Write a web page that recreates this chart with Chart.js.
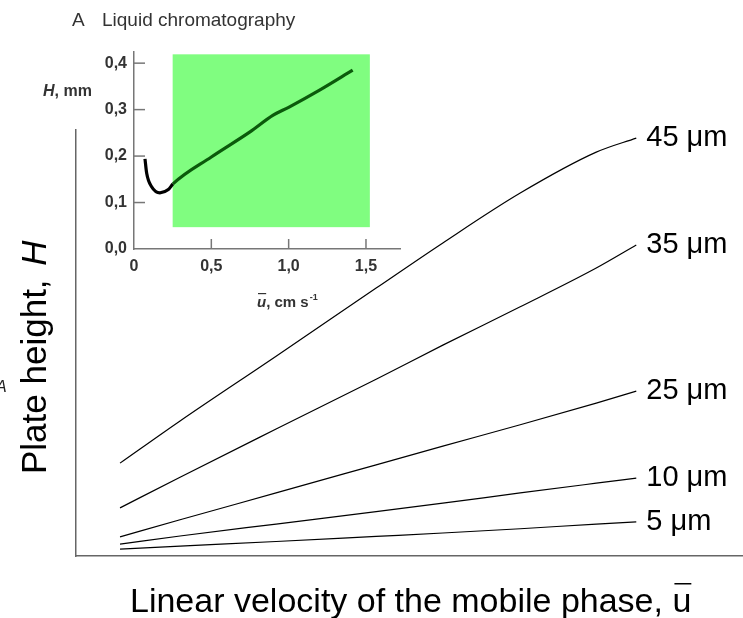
<!DOCTYPE html>
<html>
<head>
<meta charset="utf-8">
<script src="https://cdn.jsdelivr.net/npm/chart.js@4.4.1/dist/chart.umd.min.js"></script>
<style>
  html, body { margin: 0; padding: 0; background: #fff; }
  #wrap { position: relative; width: 743px; height: 618px; overflow: hidden; }
  canvas { position: absolute; left: 0; top: 0; }
</style>
</head>
<body>
<div id="wrap">
  <canvas id="main-chart" width="743" height="618"></canvas>
  <canvas id="inset-chart" width="420" height="320"></canvas>
</div>
<script>
// Main plot: plate height vs mobile phase velocity (arbitrary units, 0-100 on both axes)
const velocity = [6.6, 15.6, 30, 45, 55, 66.6, 78, 84];
const particleSizes = ['45 μm', '35 μm', '25 μm', '10 μm', '5 μm'];
const h45 = [21.8, 31.7, 46.9, 62.9, 73.5, 85.2, 94.8, 98.1];
const h35 = [11.3, 18.5, 29.8, 41.5, 49.5, 58.5, 67.6, 73.0];
const h25 = [4.5, 8.5, 14.8, 21.4, 25.8, 30.8, 35.9, 38.7];
const h10 = [2.8, 4.7, 7.5, 10.4, 12.4, 14.8, 17.1, 18.3];
const h5 = [1.6, 2.3, 3.4, 4.6, 5.4, 6.4, 7.5, 8.0];

// Inset: liquid chromatography curve, H (mm) vs u (cm/s)
const insetU = [0.071, 0.082, 0.114, 0.168, 0.222, 0.252, 0.5, 0.75, 0.9, 1.0, 1.2, 1.414];
const insetH = [0.194, 0.163, 0.134, 0.121, 0.128, 0.140, 0.198, 0.252, 0.288, 0.305, 0.342, 0.385];
const insetXTicks = [0, 0.5, 1.0, 1.5];
const insetXTickLabels = ['0', '0,5', '1,0', '1,5'];
const insetYTicks = [0, 0.1, 0.2, 0.3, 0.4];
const insetYTickLabels = ['0,0', '0,1', '0,2', '0,3', '0,4'];
const highlightU = [0.25, 1.525];
const highlightH = [0.047, 0.419];

const FONT = '"Liberation Sans", Arial, Helvetica, sans-serif';

const toPoints = (xs, ys) => xs.map((x, i) => ({ x: x, y: ys[i] }));

// ---------- main chart ----------
const mainLabels = {
    id: 'mainLabels',
    afterDatasetsDraw(chart) {
        const ctx = chart.ctx;
        ctx.save();
        ctx.fillStyle = '#000';
        ctx.font = '29px ' + FONT;
        ctx.textAlign = 'left';
        ctx.textBaseline = 'middle';
        chart.data.datasets.forEach((ds, i) => {
            const pts = chart.getDatasetMeta(i).data;
            const last = pts[pts.length - 1];
            ctx.fillText(particleSizes[i], last.x + 10, last.y);
        });

        // x axis title with overbar on u
        ctx.font = '34px ' + FONT;
        ctx.textBaseline = 'alphabetic';
        const xt = 'Linear velocity of the mobile phase, ';
        const x0 = 130, base = 612;
        ctx.fillText(xt, x0, base);
        const uX = x0 + ctx.measureText(xt).width;
        ctx.fillText('u', uX, base);
        const uW = ctx.measureText('u').width;
        ctx.fillRect(uX + 2, base - 29, uW - 2, 1.5);

        // y axis title
        ctx.translate(46, 474);
        ctx.rotate(-Math.PI / 2);
        ctx.font = '35px ' + FONT;
        const yt = 'Plate height, ';
        ctx.fillText(yt, 0, 0);
        ctx.font = 'italic 35px ' + FONT;
        ctx.fillText('H', ctx.measureText(yt).width + 4, 0);
        ctx.restore();

        // clipped stray letter at the left edge
        ctx.save();
        ctx.font = 'italic 16px ' + FONT;
        ctx.fillStyle = '#222';
        ctx.fillText('A', -4, 392);
        ctx.restore();
    }
};

const lineStyle = {
    borderColor: '#000',
    borderWidth: 1.2,
    pointRadius: 0,
    fill: false,
    cubicInterpolationMode: 'monotone'
};

new Chart(document.getElementById('main-chart').getContext('2d'), {
    type: 'line',
    data: {
        datasets: [
            { label: particleSizes[0], data: toPoints(velocity, h45), ...lineStyle },
            { label: particleSizes[1], data: toPoints(velocity, h35), ...lineStyle },
            { label: particleSizes[2], data: toPoints(velocity, h25), ...lineStyle },
            { label: particleSizes[3], data: toPoints(velocity, h10), ...lineStyle },
            { label: particleSizes[4], data: toPoints(velocity, h5), ...lineStyle }
        ]
    },
    options: {
        responsive: false,
        animation: false,
        devicePixelRatio: 1,
        layout: { padding: { left: 76, top: 130, right: 0, bottom: 62 } },
        plugins: { legend: { display: false }, tooltip: { enabled: false } },
        scales: {
            x: {
                type: 'linear', min: 0, max: 100,
                ticks: { display: false },
                grid: { display: false, drawTicks: false },
                border: { display: true, color: '#666', width: 1.5 },
                afterFit(s) { s.height = 0; }
            },
            y: {
                type: 'linear', min: 0, max: 100,
                ticks: { display: false },
                grid: { display: false, drawTicks: false },
                border: { display: true, color: '#666', width: 1.5 },
                afterFit(s) { s.width = 0; }
            }
        }
    },
    plugins: [mainLabels]
});

// ---------- inset chart ----------
const insetDecor = {
    id: 'insetDecor',
    beforeDatasetsDraw(chart) {
        const { ctx, scales: { x, y } } = chart;
        const left = x.getPixelForValue(highlightU[0]);
        const right = x.getPixelForValue(highlightU[1]);
        const top = y.getPixelForValue(highlightH[1]);
        const bottom = y.getPixelForValue(highlightH[0]);
        ctx.save();
        ctx.fillStyle = '#80fd80';
        ctx.fillRect(left, top, right - left, bottom - top);
        ctx.restore();
    },
    afterDraw(chart) {
        const { ctx, scales: { x, y } } = chart;
        ctx.save();
        // inward tick marks
        ctx.strokeStyle = '#777';
        ctx.lineWidth = 1.5;
        insetXTicks.slice(1).forEach(v => {
            const px = x.getPixelForValue(v);
            ctx.beginPath();
            ctx.moveTo(px, y.bottom);
            ctx.lineTo(px, y.bottom - 10);
            ctx.stroke();
        });
        insetYTicks.slice(1).forEach(v => {
            const py = y.getPixelForValue(v);
            ctx.beginPath();
            ctx.moveTo(x.left, py);
            ctx.lineTo(x.left + 11, py);
            ctx.stroke();
        });

        // panel title
        ctx.fillStyle = '#333';
        ctx.font = '19px ' + FONT;
        ctx.textBaseline = 'alphabetic';
        ctx.fillText('A', 72, 26);
        ctx.fillText('Liquid chromatography', 102, 26);

        // y axis title: H, mm
        ctx.font = 'italic bold 16px ' + FONT;
        ctx.fillText('H', 43, 96);
        const hw = ctx.measureText('H').width;
        ctx.font = 'bold 16px ' + FONT;
        ctx.fillText(', mm', 43 + hw, 96);

        // x axis title: u, cm s-1
        ctx.font = 'italic bold 15px ' + FONT;
        const ux = 257, ub = 307;
        ctx.fillText('u', ux, ub);
        const uw = ctx.measureText('u').width;
        ctx.fillRect(ux + 1, ub - 14, uw - 1, 1.2);
        ctx.font = 'bold 15px ' + FONT;
        ctx.fillText(', cm s', ux + uw, ub);
        const cw = ctx.measureText(', cm s').width;
        ctx.font = 'bold 9px ' + FONT;
        ctx.fillText('-1', ux + uw + cw + 1, ub - 7);
        ctx.restore();
    }
};

new Chart(document.getElementById('inset-chart').getContext('2d'), {
    type: 'line',
    data: {
        datasets: [{
            data: toPoints(insetU, insetH),
            borderWidth: 3.2,
            borderColor: '#000',
            segment: {
                borderColor: c => c.p0.parsed.x >= highlightU[0] ? '#0b5a0b' : '#000'
            },
            pointRadius: 0,
            fill: false,
            cubicInterpolationMode: 'monotone'
        }]
    },
    options: {
        responsive: false,
        animation: false,
        devicePixelRatio: 1,
        layout: { padding: { left: 0, top: 52, right: 20, bottom: 0 } },
        plugins: { legend: { display: false }, tooltip: { enabled: false } },
        scales: {
            x: {
                type: 'linear', min: 0, max: 1.72,
                afterBuildTicks(s) { s.ticks = insetXTicks.map(v => ({ value: v })); },
                ticks: {
                    color: '#333',
                    font: { family: FONT, size: 16, weight: 'bold' },
                    padding: 8,
                    maxRotation: 0,
                    callback: (v, i) => insetXTickLabels[i]
                },
                grid: { display: false, drawTicks: false },
                border: { display: true, color: '#777', width: 1.5 },
                afterFit(s) { s.height = 71; }
            },
            y: {
                type: 'linear', min: 0, max: 0.424,
                afterBuildTicks(s) { s.ticks = insetYTicks.map(v => ({ value: v })); },
                ticks: {
                    color: '#333',
                    font: { family: FONT, size: 16, weight: 'bold' },
                    padding: 7,
                    callback: (v, i) => insetYTickLabels[i]
                },
                grid: { display: false, drawTicks: false },
                border: { display: true, color: '#777', width: 1.5 },
                afterFit(s) { s.width = 134; }
            }
        }
    },
    plugins: [insetDecor]
});
</script>
</body>
</html>
